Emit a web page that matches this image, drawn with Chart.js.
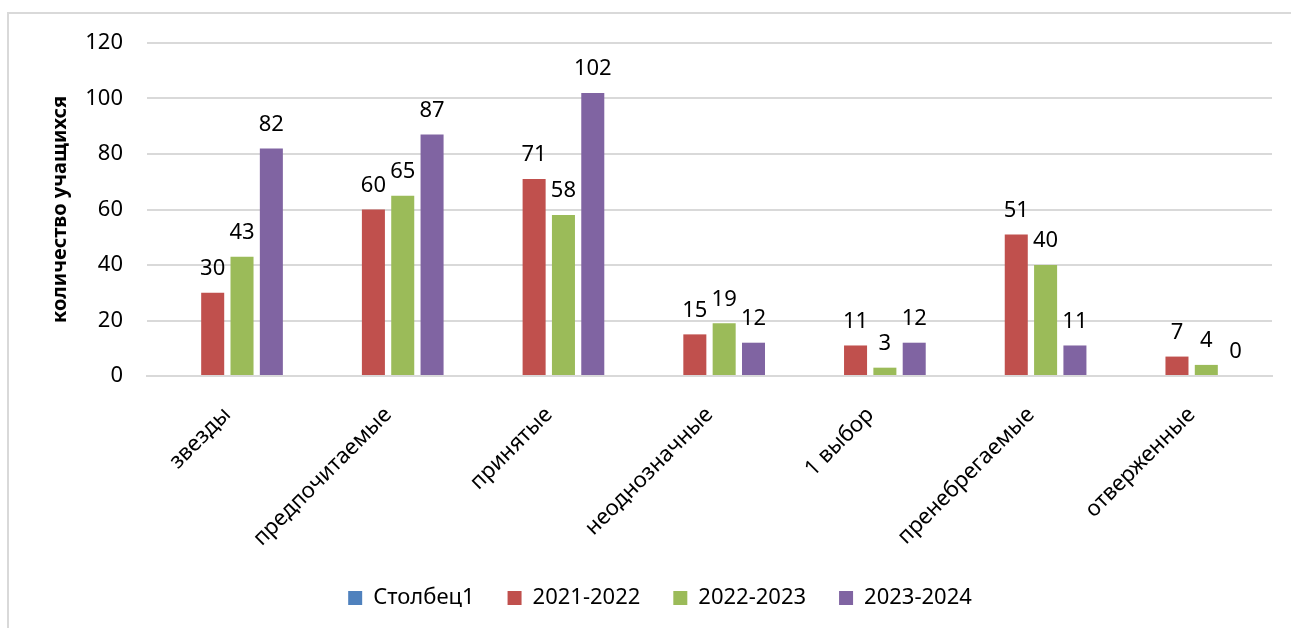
<!DOCTYPE html>
<html lang="ru">
<head>
    <meta charset="UTF-8">
    <title>количество учащихся</title>
    <script src="https://cdn.jsdelivr.net/npm/chart.js"></script>
    <style>
        html, body { margin: 0; padding: 0; background: #fff; overflow: hidden; }
        #frame {
            position: absolute; left: 7px; top: 12px;
            width: 1320px; height: 660px;
            border: 2px solid #d9d9d9; box-sizing: border-box;
        }
        #wrap { position: absolute; left: 0; top: 0; width: 1291px; height: 628px; }
    </style>
</head>
<body>
    <div id="frame"></div>
    <div id="wrap"><canvas id="chart"></canvas></div>

    <script>
        // chart data
        const categories = ['звезды', 'предпочитаемые', 'принятые', 'неоднозначные', '1 выбор', 'пренебрегаемые', 'отверженные'];
        const col1 = [null, null, null, null, null, null, null];
        const y2021 = [30, 60, 71, 15, 11, 51, 7];
        const y2022 = [43, 65, 58, 19, 3, 40, 4];
        const y2023 = [82, 87, 102, 12, 12, 11, 0];
        const yTicks = [0, 20, 40, 60, 80, 100, 120];

        const FONT = "'Noto Sans', sans-serif";

        // value labels above bars
        const barLabels = {
            id: 'barLabels',
            afterDatasetsDraw(chart) {
                const ctx = chart.ctx;
                ctx.save();
                ctx.font = '22px ' + FONT;
                ctx.fillStyle = '#000';
                ctx.textAlign = 'center';
                ctx.textBaseline = 'bottom';
                chart.data.datasets.forEach((ds, i) => {
                    const meta = chart.getDatasetMeta(i);
                    meta.data.forEach((bar, j) => {
                        const v = ds.data[j];
                        if (v === null || v === undefined) return;
                        ctx.fillText(String(v), bar.x, bar.y - 13);
                    });
                });
                ctx.restore();
            }
        };

        new Chart(document.getElementById('chart'), {
            type: 'bar',
            data: {
                labels: categories,
                datasets: [
                    { label: 'Столбец1', data: col1, backgroundColor: '#4F81BD' },
                    { label: '2021-2022', data: y2021, backgroundColor: '#C0504D' },
                    { label: '2022-2023', data: y2022, backgroundColor: '#9BBB59' },
                    { label: '2023-2024', data: y2023, backgroundColor: '#8064A2' }
                ]
            },
            options: {
                responsive: true,
                maintainAspectRatio: false,
                animation: false,
                datasets: {
                    bar: { categoryPercentage: 0.73, barPercentage: 0.785 }
                },
                layout: { padding: { top: 43, right: 19, left: 48, bottom: 9 } },
                plugins: {
                    tooltip: { enabled: false },
                    legend: {
                        position: 'bottom',
                        labels: {
                            font: { family: FONT, size: 22 },
                            color: '#000',
                            boxWidth: 14,
                            boxHeight: 14,
                            padding: 33
                        }
                    }
                },
                scales: {
                    x: {
                        grid: { display: false },
                        border: { color: '#d9d9d9', width: 2 },
                        ticks: {
                            font: { family: FONT, size: 22 },
                            color: '#000',
                            maxRotation: 45,
                            minRotation: 45,
                            padding: 18
                        },
                        afterFit(scale) { scale.height = 178; }
                    },
                    y: {
                        min: 0,
                        max: 120,
                        afterBuildTicks(scale) { scale.ticks = yTicks.map(v => ({ value: v })); },
                        grid: { color: '#d9d9d9', lineWidth: 2, drawTicks: false },
                        border: { display: false },
                        ticks: {
                            font: { family: FONT, size: 22 },
                            color: '#000',
                            padding: 24
                        },
                        title: {
                            display: true,
                            text: 'количество учащихся',
                            font: { family: FONT, size: 20, weight: 'bold' },
                            color: '#000',
                            padding: 0
                        },
                        afterFit(scale) { scale.width = 99; }
                    }
                }
            },
            plugins: [barLabels]
        });
    </script>
</body>
</html>
